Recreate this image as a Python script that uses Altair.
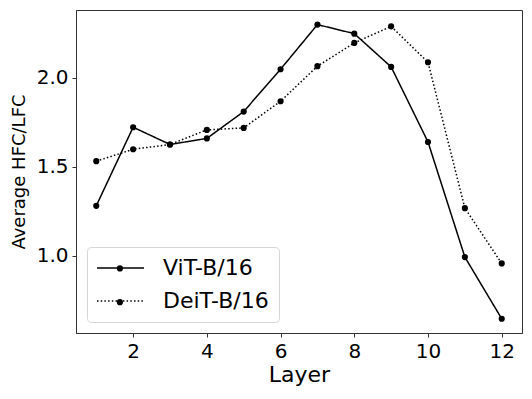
import altair as alt
import pandas as pd

layers = list(range(1, 13))
vit = [1.281, 1.723, 1.626, 1.660, 1.811, 2.049, 2.300, 2.249, 2.062, 1.640, 0.993, 0.646]
deit = [1.532, 1.599, 1.626, 1.708, 1.719, 1.869, 2.066, 2.197, 2.290, 2.088, 1.268, 0.957]
series = ["ViT-B/16", "DeiT-B/16"]

rows = []
for name, vals in zip(series, [vit, deit]):
    for l, v in zip(layers, vals):
        rows.append({"Layer": l, "Value": v, "Model": name, "Marker": name})
df = pd.DataFrame(rows)

FONT = "DejaVu Sans"

x = alt.X("Layer:Q", scale=alt.Scale(domain=[0.45, 12.55], nice=False, zero=False),
          axis=alt.Axis(values=[2, 4, 6, 8, 10, 12], title="Layer"))
y = alt.Y("Value:Q", scale=alt.Scale(domain=[0.566, 2.382], nice=False, zero=False),
          axis=alt.Axis(values=[1.0, 1.5, 2.0], format=".1f", title="Average HFC/LFC"))

# wide horizontal stroke drawn from a small (20px) symbol box
line_sym = "M -1.1 0 L 3.6 0"

lines = alt.Chart(df).mark_line(color="black", strokeWidth=1.5).encode(
    x=x, y=y,
    strokeDash=alt.StrokeDash(
        "Model:N",
        scale=alt.Scale(domain=series, range=[[1, 0], [1.5, 2.2]]),
        legend=alt.Legend(
            title=None, orient="none", legendX=11, legendY=237,
            symbolType=line_sym, symbolSize=400, symbolStrokeWidth=1.5,
            symbolStrokeColor="black", symbolFillColor="transparent",
            labelFont=FONT, labelFontSize=22, labelColor="black", labelOffset=44,
            rowPadding=11, padding=10,
            fillColor="white", strokeColor="#d6d6d6", cornerRadius=4,
        ),
    ),
)

points = alt.Chart(df).mark_point(filled=True, color="black", opacity=1, size=38).encode(
    x=x, y=y,
    shape=alt.Shape(
        "Marker:N",
        scale=alt.Scale(domain=series, range=["circle", "circle"]),
        legend=alt.Legend(
            title=None, orient="none", legendX=30.4, legendY=244.9,
            symbolSize=38, symbolFillColor="black", symbolStrokeWidth=0, symbolOpacity=1,
            labelExpr="''", labelFontSize=1, labelOffset=0,
            rowPadding=26.8, padding=10,
        ),
    ),
)

chart = alt.layer(lines, points).resolve_legend(shape="independent", strokeDash="independent").properties(
    width=446, height=323,
    autosize=alt.AutoSizeParams(type="none"),
    padding={"left": 68, "top": 2, "right": 2, "bottom": 60},
).configure_view(stroke="#333333", strokeWidth=1).configure_axis(
    grid=False, domainColor="#333333", tickColor="#333333", tickSize=4,
    labelFont=FONT, labelFontSize=20, labelColor="black",
    titleFont=FONT, titleFontWeight="normal", titleColor="black",
).configure_axisX(titleFontSize=22, titlePadding=3, labelPadding=4).configure_axisY(
    titleFontSize=18, titlePadding=8, labelPadding=4
)

chart.save("out.html", embed_options={"renderer": "svg", "actions": False})
